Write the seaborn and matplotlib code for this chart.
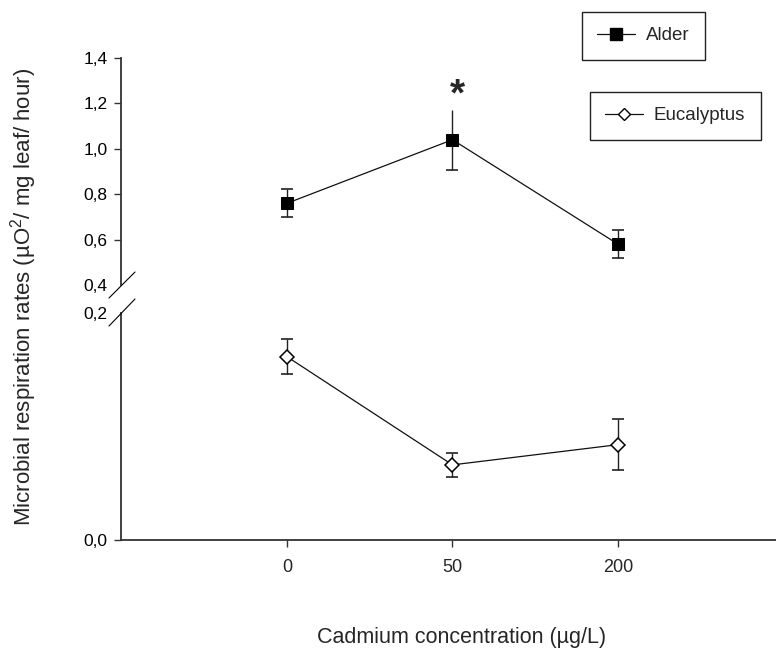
import matplotlib
matplotlib.use("Agg")
import matplotlib.pyplot as plt
from matplotlib.lines import Line2D
from matplotlib.ticker import FuncFormatter
import numpy as np
import pandas as pd
import seaborn as sns

# ---- data ----
cadmium = ["0", "50", "200"]
alder_mean = [0.76, 1.04, 0.58]
alder_se = [0.062, 0.132, 0.061]
euc_mean = [0.1615, 0.0662, 0.084]
euc_se = [0.0155, 0.0107, 0.0223]
alder_upper_cap = [True, False, True]
upper_ticks = [0.4, 0.6, 0.8, 1.0, 1.2, 1.4]
lower_ticks = [0.0, 0.2]

sns.set_style("ticks")
plt.rcParams["font.family"] = ["Liberation Sans", "DejaVu Sans"]
plt.rcParams["mathtext.fontset"] = "custom"
plt.rcParams["mathtext.rm"] = "Liberation Sans"
plt.rcParams["mathtext.it"] = "Liberation Sans:italic"

pos = np.arange(len(cadmium))
df_a = pd.DataFrame({"pos": pos, "val": alder_mean})
df_e = pd.DataFrame({"pos": pos, "val": euc_mean})

W, H = 776, 648
fig = plt.figure(figsize=(W / 100, H / 100), dpi=100)
left = 121 / W
ax_up = fig.add_axes([left, 1 - 285 / H, 1 - left, (285 - 58) / H])
ax_lo = fig.add_axes([left, 1 - 540 / H, 1 - left, (540 - 313) / H])

spine_col = "#333333"
dcol = "#111111"
xlim = (-1.003, 2.955)


def comma(v, p):
    return f"{v:.1f}".replace(".", ",")


# series lines + markers
sns.lineplot(data=df_a, x="pos", y="val", ax=ax_up, color=dcol, lw=0.9,
             marker="s", markersize=8, markerfacecolor="black",
             markeredgecolor="black", zorder=3, legend=False)
sns.lineplot(data=df_e, x="pos", y="val", ax=ax_lo, color=dcol, lw=0.9,
             marker="D", markersize=7, markerfacecolor="white",
             markeredgecolor="black", markeredgewidth=1.1, zorder=3, legend=False)

for ax in (ax_up, ax_lo):
    ax.set_xlim(*xlim)
    for s in ["top", "right"]:
        ax.spines[s].set_visible(False)
    ax.spines["left"].set_color(spine_col)
    ax.spines["left"].set_linewidth(1.3)
    ax.tick_params(axis="y", direction="out", length=5, width=1, color=spine_col,
                   pad=4.5, labelsize=12.5, labelcolor="black")
    ax.yaxis.set_major_formatter(FuncFormatter(comma))
    ax.set_xlabel("")
    ax.set_ylabel("")
    ax.set_facecolor("none")

ax_up.spines["bottom"].set_visible(False)
ax_up.set_xticks([])
ax_up.set_ylim(0.4, 1.4)
ax_up.set_yticks(upper_ticks)

ax_lo.spines["bottom"].set_color(spine_col)
ax_lo.spines["bottom"].set_linewidth(1.3)
ax_lo.set_ylim(0.0, 0.2)
ax_lo.set_yticks(lower_ticks)
ax_lo.set_xticks(pos)
ax_lo.set_xticklabels(cadmium)
ax_lo.tick_params(axis="x", direction="out", length=5, width=1, color=spine_col,
                  pad=8.5, labelsize=13)

# error bars
am, ase = np.array(alder_mean), np.array(alder_se)
em, ese = np.array(euc_mean), np.array(euc_se)
ecol = "#222222"
ax_up.vlines(pos, am - ase, am + ase, color=ecol, lw=1.0, zorder=2)
ax_up.plot(pos, am - ase, ls="none", marker="_", ms=9, mew=1.2, color=ecol, zorder=2)
capmask = np.array(alder_upper_cap)
ax_up.plot(pos[capmask], (am + ase)[capmask], ls="none", marker="_", ms=9, mew=1.2,
           color=ecol, zorder=2)
ax_lo.vlines(pos, em - ese, em + ese, color=ecol, lw=1.0, zorder=2)
ax_lo.plot(pos, em - ese, ls="none", marker="_", ms=9, mew=1.2, color=ecol, zorder=2)
ax_lo.plot(pos, em + ese, ls="none", marker="_", ms=9, mew=1.2, color=ecol, zorder=2)

# hide ticks at the break
ax_up.yaxis.get_major_ticks()[0].tick1line.set_visible(False)
ax_lo.yaxis.get_major_ticks()[-1].tick1line.set_visible(False)

# significance asterisk
ax_up.text(1.03, 1.235, "*", ha="center", va="center", fontsize=28, fontweight="bold")

# break marks
for (x0, y0, x1, y1) in [(109, 298, 135, 272), (109, 326, 135, 299)]:
    fig.add_artist(Line2D([x0 / W, x1 / W], [1 - y0 / H, 1 - y1 / H],
                          transform=fig.transFigure, color="black", lw=0.8))

# labels
fig.text(24 / W, 1 - 297 / H,
         "Microbial respiration rates (µO$^{2}$/ mg leaf/ hour)",
         rotation=90, ha="center", va="center", fontsize=16)
fig.text(462 / W, 1 - 643 / H, "Cadmium concentration (µg/L)",
         ha="center", va="baseline", fontsize=15.5)

# legends (two separate boxes)
h_a = Line2D([], [], color=dcol, lw=0.9, marker="s", markersize=8,
             markerfacecolor="black", markeredgecolor="black")
h_e = Line2D([], [], color=dcol, lw=0.9, marker="D", markersize=6.5,
             markerfacecolor="white", markeredgecolor="black")
leg_kw = dict(loc="upper left", bbox_transform=fig.transFigure, borderaxespad=0,
              fancybox=False, shadow=False, frameon=True, fontsize=13.5,
              handlelength=2.0, handletextpad=0.59, borderpad=0.82)
leg1 = fig.legend([h_a], ["Alder"], bbox_to_anchor=(582 / W, 1 - 12 / H), **leg_kw)
leg2 = fig.legend([h_e], ["Eucalyptus"], bbox_to_anchor=(590 / W, 1 - 92 / H), **leg_kw)
for lg in (leg1, leg2):
    fr = lg.get_frame()
    fr.set_edgecolor("#222222")
    fr.set_linewidth(1.0)
    fr.set_alpha(1)

fig.savefig("out.png", dpi=100)
